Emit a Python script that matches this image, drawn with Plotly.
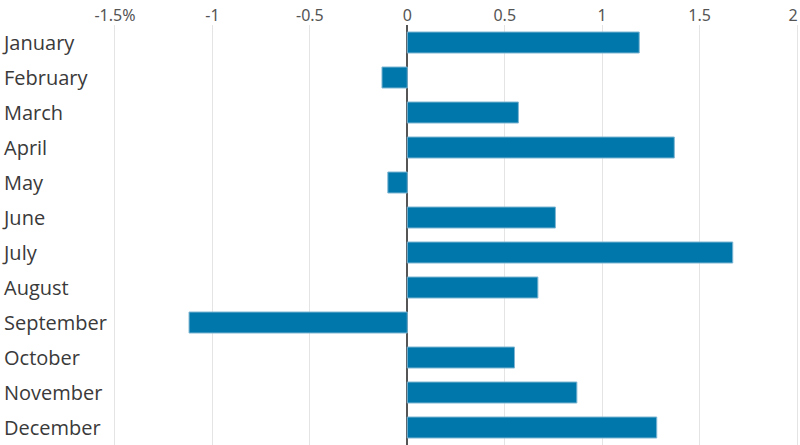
import plotly.graph_objects as go

months = ["January", "February", "March", "April", "May", "June", "July",
          "August", "September", "October", "November", "December"]
values = [1.19, -0.13, 0.57, 1.37, -0.10, 0.76, 1.67, 0.67, -1.12, 0.55, 0.87, 1.28]
tick_vals = [-1.5, -1, -0.5, 0, 0.5, 1, 1.5, 2]
tick_text = ["-1.5%", "-1", "-0.5", "0", "0.5", "1", "1.5", "2\u2002"]

fig = go.Figure(go.Bar(
    x=values, y=months, orientation="h",
    marker=dict(color="#0077AA", line=dict(color="#7FB6D3", width=1)),
    hoverinfo="skip",
))

fig.update_layout(
    width=800, height=445,
    margin=dict(l=0, r=0, t=25, b=0),
    paper_bgcolor="white", plot_bgcolor="white",
    bargap=0.4,
    showlegend=False,
    font=dict(family="Noto Sans", color="#333333"),
    xaxis=dict(
        side="top", range=[-2.09, 2.015], automargin=False,
        tickvals=tick_vals, ticktext=tick_text,
        ticklabeloverflow="allow",
        showgrid=True, gridcolor="#E4E4E4", gridwidth=1,
        zeroline=True, zerolinecolor="#555555", zerolinewidth=1.5,
        tickfont=dict(size=16, color="#555555"),
        ticks="", showline=False, fixedrange=True,
    ),
    yaxis=dict(
        autorange="reversed", automargin=False,
        ticklabelposition="inside", ticks="",
        showgrid=False, showline=False, zeroline=False,
        tickfont=dict(family="Open Sans", size=20, color="#3A3A3A"),
        ticklabelstandoff=1, fixedrange=True,
    ),
)

fig.write_html("out.html",
               config={"displayModeBar": False},
               post_script="document.body.style.margin='0';document.body.style.overflow='hidden';")
